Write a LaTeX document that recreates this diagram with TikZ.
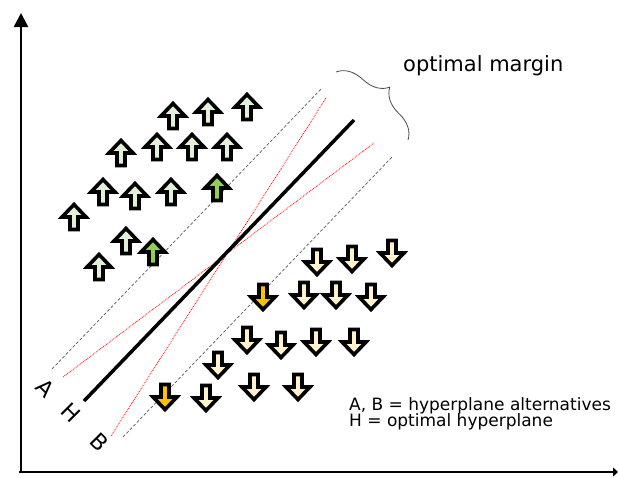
\documentclass[tikz,border=0pt]{standalone}
\usepackage{fontspec}
\setmainfont{DejaVu Sans}
\usetikzlibrary{arrows.meta,decorations.pathreplacing}
\definecolor{upfill}{HTML}{E2F0D9}
\definecolor{upmark}{HTML}{92D050}
\definecolor{downfill}{HTML}{FFF2CC}
\definecolor{downmark}{HTML}{FFC000}
\tikzset{
    blockarrow/.style={draw=black, line width=3.6pt, line join=miter},
    margline/.style={gray!70!black, line width=0.7pt, densely dashed},
    altline/.style={red, line width=0.8pt, densely dotted},
    planelabel/.style={font=\fontsize{22}{22}\selectfont, rotate=-45, inner sep=0pt},
    legendtext/.style={anchor=base west, font=\fontsize{17}{17}\selectfont, inner sep=0pt}
}
\begin{document}
\begin{tikzpicture}[x=1pt,y=-1pt]
    \def\headW{12}
    \def\shaftW{4}
    \def\halfH{12.5}

    \useasboundingbox (0,0) rectangle (619,477);

    %eixos
    \draw[line width=2.4pt, -{Triangle[width=14pt,length=14pt]}] (21,472) -- (21,13);
    \draw[line width=2.4pt, -{Triangle[width=9pt,length=5pt]}] (19,472) -- (618,472);

    %hiperplanos
    \draw[margline] (52,369) -- (322,88);
    \draw[margline] (123,437) -- (393,156);
    \draw[altline] (63,377) -- (374,143);
    \draw[altline] (111,436) -- (326,98);
    \draw[line width=3.5pt] (84,401) -- (354,120);

    %classe de cima
    \foreach \x/\y/\c in {
        173/116/upfill, 208/112/upfill, 247/107/upfill,
        121/153/upfill, 157/147/upfill, 192/147/upfill, 227/147/upfill,
        103/192/upfill, 135/196/upfill, 171/192/upfill, 217/188/upmark,
        74/217/upfill, 126/241/upfill, 153/252/upmark, 99/267/upfill} {
        \filldraw[blockarrow, fill=\c]
            (\x,\y-\halfH) -- (\x+\headW,\y) -- (\x+\shaftW,\y) -- (\x+\shaftW,\y+\halfH)
            -- (\x-\shaftW,\y+\halfH) -- (\x-\shaftW,\y) -- (\x-\headW,\y) -- cycle;
    }

    %classe de baixo
    \foreach \x/\y/\c in {
        317/262/downfill, 352/259/downfill, 392/253/downfill,
        263/297/downmark, 304/295/downfill, 336/295/downfill, 371/297/downfill,
        247/340/downfill, 281/345/downfill, 316/342/downfill, 354/342/downfill,
        218/365/downfill, 254/387/downfill, 298/387/downfill,
        165/397/downmark, 206/398/downfill} {
        \filldraw[blockarrow, fill=\c]
            (\x,\y+\halfH) -- (\x+\headW,\y) -- (\x+\shaftW,\y) -- (\x+\shaftW,\y-\halfH)
            -- (\x-\shaftW,\y-\halfH) -- (\x-\shaftW,\y) -- (\x-\headW,\y) -- cycle;
    }

    %margem
    \draw[gray!60!black, line width=0.8pt, decorate, decoration={brace, amplitude=26pt}]
        (336,72) -- (408,140);
    \node[anchor=base west, font=\fontsize{21}{21}\selectfont, inner sep=0pt] (margin) at (403,71) {optimal margin};

    %rotulos
    \node[planelabel] (lblA) at (45,388) {A};
    \node[planelabel] (lblH) at (71,413) {H};
    \node[planelabel] (lblB) at (100,442) {B};

    \node[legendtext] (legAB) at (349,410) {A, B = hyperplane alternatives};
    \node[legendtext] (legH) at (349,426) {H = optimal hyperplane};
\end{tikzpicture}
\end{document}
